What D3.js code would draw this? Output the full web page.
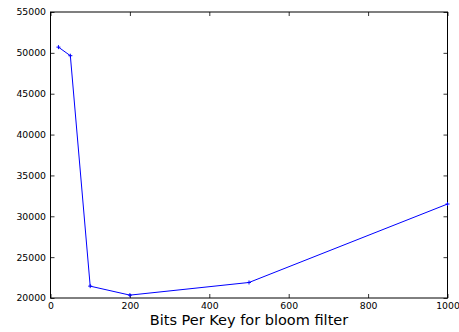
<!DOCTYPE html>
<html>
<head>
<meta charset="utf-8">
<script src="https://cdn.jsdelivr.net/npm/d3@7"></script>
<style>
  body { margin: 0; background: #fff; }
  svg { display: block; font-family: "DejaVu Sans", sans-serif; }
</style>
</head>
<body>
<div id="chart"></div>
<script>
// bits per key vs. value
const bitsPerKey = [20, 50, 100, 200, 500, 1000];
const values = [50700, 49650, 21450, 20350, 21900, 31500];
const xTicks = [0, 200, 400, 600, 800, 1000];
const yTicks = [20000, 25000, 30000, 35000, 40000, 45000, 50000, 55000];
const xLabel = 'Bits Per Key for bloom filter';

const width = 459;
const height = 332;
const margin = { top: 12, right: 11.5, bottom: 34, left: 50.5 };
const innerW = width - margin.left - margin.right;
const innerH = height - margin.top - margin.bottom;

const svg = d3
  .select('#chart')
  .append('svg')
  .attr('width', width)
  .attr('height', height);

const g = svg
  .append('g')
  .attr('transform', `translate(${margin.left},${margin.top})`);

const x = d3.scaleLinear().domain([0, 1000]).range([0, innerW]);
const y = d3.scaleLinear().domain([20000, 55000]).range([innerH, 0]);

const tickLen = 4;
const fmt = d3.format('d');

// bottom and top axes (ticks pointing inward)
g.append('g')
  .attr('transform', `translate(0,${innerH})`)
  .call(d3.axisBottom(x).tickValues(xTicks).tickFormat(fmt).tickSizeInner(-tickLen).tickSizeOuter(0).tickPadding(4))
  .call((a) => a.select('.domain').remove());
g.append('g')
  .call(d3.axisTop(x).tickValues(xTicks).tickSizeInner(-tickLen).tickSizeOuter(0).tickFormat(''))
  .call((a) => a.select('.domain').remove());

// left and right axes
g.append('g')
  .call(d3.axisLeft(y).tickValues(yTicks).tickFormat(fmt).tickSizeInner(-tickLen).tickSizeOuter(0).tickPadding(4.5))
  .call((a) => a.select('.domain').remove());
g.append('g')
  .attr('transform', `translate(${innerW},0)`)
  .call(d3.axisRight(y).tickValues(yTicks).tickSizeInner(-tickLen).tickSizeOuter(0).tickFormat(''))
  .call((a) => a.select('.domain').remove());

g.selectAll('.tick text').attr('font-size', 9.3).attr('fill', '#000').attr('font-family', '"DejaVu Sans", sans-serif');
g.selectAll('.tick line').attr('stroke', '#000').attr('stroke-width', 0.8);

// frame
g.append('rect')
  .attr('width', innerW)
  .attr('height', innerH)
  .attr('fill', 'none')
  .attr('stroke', '#000')
  .attr('stroke-width', 1);

// line
const line = d3
  .line()
  .x((d, i) => x(bitsPerKey[i]))
  .y((d) => y(d));

g.append('path')
  .datum(values)
  .attr('d', line)
  .attr('fill', 'none')
  .attr('stroke', '#0000ff')
  .attr('stroke-width', 1);

// small + markers
const m = 2;
g.append('g')
  .selectAll('path')
  .data(values)
  .enter()
  .append('path')
  .attr('d', (d, i) => {
    const px = x(bitsPerKey[i]);
    const py = y(d);
    return `M${px - m},${py}H${px + m}M${px},${py - m}V${py + m}`;
  })
  .attr('stroke', '#0000ff')
  .attr('stroke-width', 1);

svg.append('text')
  .attr('x', margin.left + innerW / 2)
  .attr('y', 325)
  .attr('text-anchor', 'middle')
  .attr('font-size', 14.5)
  .attr('fill', '#000')
  .text(xLabel);
</script>
</body>
</html>
